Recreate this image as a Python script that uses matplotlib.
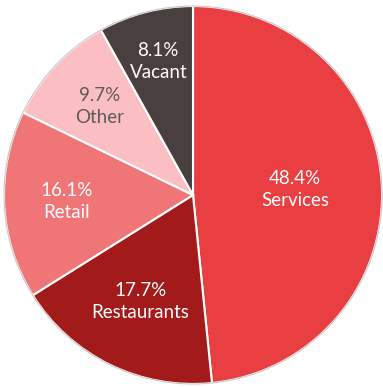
from matplotlib import pyplot as plt
import numpy as np

# Space use by category (percent)
categories = ["Services", "Restaurants", "Retail", "Other", "Vacant"]
shares = [48.4, 17.7, 16.1, 9.7, 8.1]
colors = ["#E93E42", "#A31A1A", "#F07577", "#FBBEC2", "#4A3F3F"]
text_colors = ["white", "white", "white", "#5E5A5A", "white"]
# radial position of each label, as a fraction of the radius
label_radius = [0.54, 0.63, 0.67, 0.68, 0.73]

plt.rcParams["font.family"] = ["Lato", "DejaVu Sans"]

fig = plt.figure(figsize=(3.83, 3.87), dpi=100)
ax = fig.add_axes([0, 0, 1, 1])

wedges, _ = ax.pie(shares, colors=colors, startangle=90, counterclock=False,
                   radius=1, center=(0, 0),
                   wedgeprops=dict(edgecolor="white", linewidth=1.5))

# faint grey rim round the pie
rim = plt.Circle((0, 0), 1.0, fill=False, edgecolor="#C8C8C8", linewidth=0.8)
ax.add_patch(rim)

for w, name, val, r, tc in zip(wedges, categories, shares, label_radius, text_colors):
    mid = np.deg2rad((w.theta1 + w.theta2) / 2)
    x, y = r * np.cos(mid), r * np.sin(mid)
    ax.text(x, y, "{:.1f}%\n{}".format(val, name), ha="center", va="center",
            color=tc, fontsize=13.5, linespacing=1.35)

ax.set_xlim(-1.021, 1.005)
ax.set_ylim(-1.016, 1.032)
ax.set_aspect("auto")
ax.axis("off")

plt.savefig("out.png", dpi=100)
